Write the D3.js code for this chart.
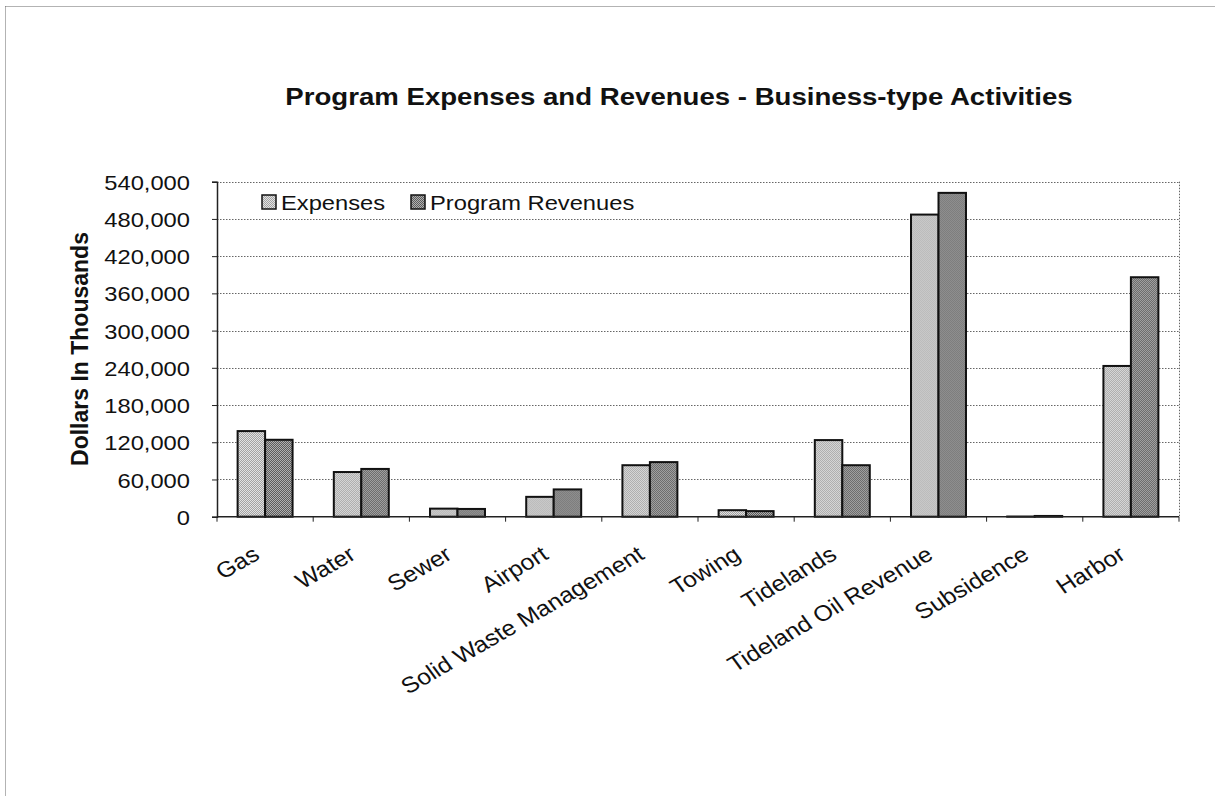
<!DOCTYPE html>
<html>
<head>
<meta charset="utf-8">
<script src="https://cdn.jsdelivr.net/npm/d3@7"></script>
<style>
  html, body { margin: 0; padding: 0; background: #fff; }
  svg { display: block; }
  text { font-family: Arial, "Liberation Sans", sans-serif; fill: #111; }
</style>
</head>
<body>
<svg id="chart" width="1215" height="796"></svg>
<script>
// Business-type activities, dollars in thousands
const categories = ["Gas", "Water", "Sewer", "Airport", "Solid Waste Management",
  "Towing", "Tidelands", "Tideland Oil Revenue", "Subsidence", "Harbor"];
const seriesNames = ["Expenses", "Program Revenues"];
const expenses = [138000, 72000, 13000, 32000, 83000, 10500, 123500, 487000, 300, 243000];
const revenues = [124000, 77000, 12500, 44000, 88000, 9000, 83000, 522000, 1200, 386000];
const yTicks = [0, 60000, 120000, 180000, 240000, 300000, 360000, 420000, 480000, 540000];

const svg = d3.select("#chart");
const W = 1215, H = 796;
const plot = { left: 217, right: 1179, top: 181.7, bottom: 516.7 };
const SX = 1.13; // horizontal widening of the label face

// Dithered fills for the two series
const defs = svg.append("defs");
function checker(id, a, b) {
  const p = defs.append("pattern").attr("id", id).attr("width", 2).attr("height", 2)
    .attr("patternUnits", "userSpaceOnUse");
  p.append("rect").attr("width", 2).attr("height", 2).attr("fill", a);
  p.append("rect").attr("width", 1).attr("height", 1).attr("fill", b);
  p.append("rect").attr("x", 1).attr("y", 1).attr("width", 1).attr("height", 1).attr("fill", b);
}
checker("fillExp", "#e2e2e2", "#a2a2a2");
checker("fillRev", "#b0b0b0", "#5c5c5c");
const fills = { "Expenses": "url(#fillExp)", "Program Revenues": "url(#fillRev)" };

// Outer chart frame
svg.append("line").attr("x1", 5.5).attr("x2", W).attr("y1", 6.5).attr("y2", 6.5)
  .attr("stroke", "#666").attr("stroke-dasharray", "1,1");
svg.append("line").attr("x1", 5.5).attr("x2", 5.5).attr("y1", 6.5).attr("y2", H)
  .attr("stroke", "#666").attr("stroke-dasharray", "1,1");

// Title
svg.append("text")
  .attr("transform", `translate(679,105) scale(1.15,1)`)
  .attr("text-anchor", "middle")
  .style("font-size", "24px").style("font-weight", "bold")
  .text("Program Expenses and Revenues - Business-type Activities");

// Scales
const x0 = d3.scaleBand().domain(categories).range([plot.left, plot.right]).padding(0);
const x1 = d3.scaleBand().domain(seriesNames).range([0, x0.bandwidth()])
  .paddingInner(0).paddingOuter(0.75);
const y = d3.scaleLinear().domain([0, 540000]).range([plot.bottom, plot.top]);

// Gridlines
svg.append("g").selectAll("line").data(yTicks.filter(d => d > 0)).join("line")
  .attr("x1", plot.left).attr("x2", plot.right)
  .attr("y1", d => Math.round(y(d)) + 0.5).attr("y2", d => Math.round(y(d)) + 0.5)
  .attr("stroke", "#666").attr("stroke-width", 1).attr("stroke-dasharray", "1.5,1.5");

// Plot frame on the right side
svg.append("line").attr("x1", plot.right + 0.5).attr("x2", plot.right + 0.5)
  .attr("y1", plot.top).attr("y2", plot.bottom)
  .attr("stroke", "#666").attr("stroke-dasharray", "1.5,1.5");

// Bars
const rows = categories.map((c, i) => ({ cat: c, vals: [
  { key: "Expenses", v: expenses[i] }, { key: "Program Revenues", v: revenues[i] }] }));
const groups = svg.append("g").selectAll("g").data(rows).join("g")
  .attr("transform", d => `translate(${x0(d.cat)},0)`);
groups.selectAll("rect").data(d => d.vals).join("rect")
  .attr("x", d => x1(d.key))
  .attr("y", d => y(d.v))
  .attr("width", x1.bandwidth())
  .attr("height", d => y(0) - y(d.v))
  .attr("fill", d => fills[d.key])
  .attr("stroke", "#111").attr("stroke-width", 2);

// Y axis
const yAxis = d3.axisLeft(y).tickValues(yTicks).tickSize(5).tickPadding(0)
  .tickFormat(d3.format(","));
const gy = svg.append("g").attr("transform", `translate(${plot.left},0)`).call(yAxis);
gy.select(".domain").attr("stroke", "#222").attr("stroke-width", 1.5);
gy.selectAll(".tick line").attr("stroke", "#222");
gy.selectAll(".tick text")
  .attr("x", 0).attr("dy", "0.36em")
  .attr("transform", `translate(-27,0) scale(${SX},1)`)
  .style("font-size", "21px").style("font-family", "Arial, 'Liberation Sans', sans-serif")
  .attr("fill", "#111");

// X axis: ticks on category boundaries
const xAxisG = svg.append("g");
xAxisG.append("line").attr("x1", plot.left).attr("x2", plot.right)
  .attr("y1", plot.bottom).attr("y2", plot.bottom).attr("stroke", "#222").attr("stroke-width", 1.5);
const bounds = categories.map(c => x0(c)).concat([plot.right]);
xAxisG.selectAll("line.tk").data(bounds).join("line").attr("class", "tk")
  .attr("x1", d => d).attr("x2", d => d)
  .attr("y1", plot.bottom).attr("y2", plot.bottom + 5).attr("stroke", "#222");
xAxisG.selectAll("text").data(categories).join("text")
  .attr("transform", d => `translate(${x0(d) + x0.bandwidth() / 2 - 4},558) scale(${SX},1) rotate(-33)`)
  .attr("text-anchor", "end")
  .style("font-size", "22px")
  .text(d => d);

// Y axis title
svg.append("text")
  .attr("transform", "translate(88,349) rotate(-90)")
  .attr("text-anchor", "middle")
  .style("font-size", "23px").style("font-weight", "bold")
  .text("Dollars In Thousands");

// Legend
const legend = svg.append("g");
const legendItems = [{ key: "Expenses", x: 262 }, { key: "Program Revenues", x: 411 }];
legend.selectAll("rect").data(legendItems).join("rect")
  .attr("x", d => d.x).attr("y", 195).attr("width", 14).attr("height", 14)
  .attr("fill", d => fills[d.key]).attr("stroke", "#111").attr("stroke-width", 1.5);
legend.selectAll("text").data(legendItems).join("text")
  .attr("transform", d => `translate(${d.x + 19},210) scale(${SX},1)`)
  .style("font-size", "21px")
  .text(d => d.key);
</script>
</body>
</html>
